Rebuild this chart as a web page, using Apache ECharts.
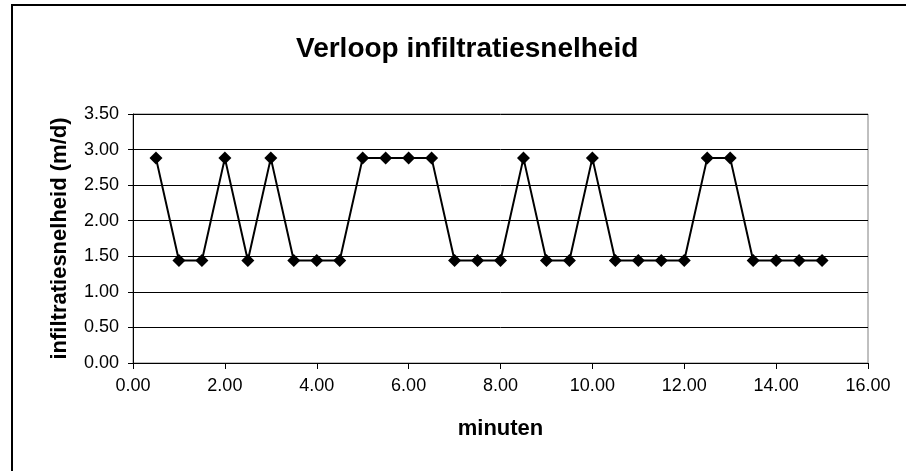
<!DOCTYPE html>
<html>
<head>
<meta charset="utf-8">
<script src="https://cdn.jsdelivr.net/npm/echarts@6/dist/echarts.min.js"></script>
<style>
  html, body { margin: 0; padding: 0; background: #fff; }
  #chart { width: 906px; height: 471px; }
</style>
</head>
<body>
<div id="chart"></div>
<script>
// minuten (x) en infiltratiesnelheid in m/d (y)
const minuten = [0.5, 1, 1.5, 2, 2.5, 3, 3.5, 4, 4.5, 5, 5.5, 6, 6.5, 7, 7.5,
  8, 8.5, 9, 9.5, 10, 10.5, 11, 11.5, 12, 12.5, 13, 13.5, 14, 14.5, 15]
const snelheid = [2.88, 1.44, 1.44, 2.88, 1.44, 2.88, 1.44, 1.44, 1.44, 2.88,
  2.88, 2.88, 2.88, 1.44, 1.44, 1.44, 2.88, 1.44, 1.44, 2.88,
  1.44, 1.44, 1.44, 1.44, 2.88, 2.88, 1.44, 1.44, 1.44, 1.44]

const titel = 'Verloop infiltratiesnelheid'
const xNaam = 'minuten'
const yNaam = 'infiltratiesnelheid (m/d)'

const font = '"Liberation Sans", Arial, sans-serif'
const chart = echarts.init(document.getElementById('chart'))

const option = {
  animation: false,
  backgroundColor: '#fff',
  textStyle: { fontFamily: font },
  title: {
    text: titel,
    left: 296,
    top: 35,
    padding: 0,
    textStyle: { fontFamily: font, fontSize: 28, fontWeight: 'bold', color: '#000' }
  },
  graphic: [{
    type: 'rect',
    shape: { x: 12, y: 5, width: 1000, height: 1000 },
    style: { fill: 'none', stroke: '#000', lineWidth: 2 },
    silent: true
  }],
  grid: { left: 133, right: 38, top: 114, bottom: 108, containLabel: false,
    show: true, borderColor: '#808080', borderWidth: 1 },
  xAxis: {
    type: 'value',
    min: 0, max: 16, interval: 2,
    name: xNaam,
    nameLocation: 'middle',
    nameGap: 55,
    nameTextStyle: { fontFamily: font, fontSize: 22, fontWeight: 'bold', color: '#000' },
    axisLine: { show: true, onZero: false, lineStyle: { color: '#000', width: 1 } },
    axisTick: { show: true, inside: false, length: 6, lineStyle: { color: '#000' } },
    axisLabel: { fontFamily: font, fontSize: 18, color: '#000', margin: 14,
      formatter: v => v.toFixed(2) },
    splitLine: { show: false }
  },
  yAxis: {
    type: 'value',
    min: 0, max: 3.5, interval: 0.5,
    name: yNaam,
    nameLocation: 'middle',
    nameGap: 62,
    nameTextStyle: { fontFamily: font, fontSize: 22, fontWeight: 'bold', color: '#000' },
    axisLine: { show: true, lineStyle: { color: '#000', width: 1 } },
    axisTick: { show: true, inside: false, length: 5, lineStyle: { color: '#000' } },
    axisLabel: { fontFamily: font, fontSize: 18, color: '#000', margin: 14,
      formatter: v => v.toFixed(2) },
    splitLine: { show: true, lineStyle: { color: '#000', width: 1 } }
  },
  series: [{
    type: 'line',
    data: minuten.map((m, i) => [m, snelheid[i]]),
    symbol: 'diamond',
    symbolSize: 13,
    showAllSymbol: true,
    lineStyle: { color: '#000', width: 2 },
    itemStyle: { color: '#000' }
  }]
}

chart.setOption(option)
</script>
</body>
</html>
